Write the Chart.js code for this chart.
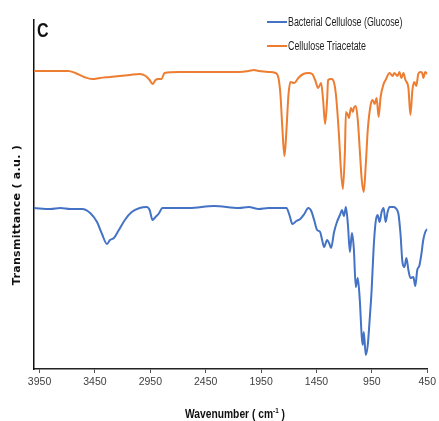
<!DOCTYPE html>
<html>
<head>
<meta charset="utf-8">
<script src="https://cdn.jsdelivr.net/npm/chart.js@4.4.1/dist/chart.umd.min.js"></script>
<style>
  html, body { margin:0; padding:0; background:#fff; }
  .wrap { position:relative; width:439px; height:421px; }
  .panel-tag { position:absolute; left:37px; top:19px; font:bold 20px 'Liberation Sans',Arial,sans-serif; color:#111;
               transform:scaleX(0.8); transform-origin:left top; }
  .legend { position:absolute; left:267px; top:14px; font:12px 'Liberation Sans',Arial,sans-serif; color:#222; }
  .legend-item { display:flex; align-items:center; height:16px; margin-bottom:8px; }
  .legend-line { width:20px; height:2px; margin-right:1px; flex:none; }
  .legend-item span { display:inline-block; transform:scaleX(0.74); transform-origin:left center; white-space:nowrap; }
  .x-title { position:absolute; left:135px; width:200px; top:406px; text-align:center; line-height:15px;
             font:bold 13px 'Liberation Sans',Arial,sans-serif; color:#111; transform:scaleX(0.79); }
  .x-title sup { font-size:8px; line-height:0; vertical-align:5px; }
  .y-title { position:absolute; left:-83px; top:208px; width:200px; height:14px; line-height:14px; text-align:center;
             font:bold 11px 'DejaVu Sans',sans-serif; letter-spacing:0.3px; color:#111; transform:rotate(-90deg); }
</style>
</head>
<body>
<div class="wrap">
  <canvas id="ftirChart" width="439" height="421"></canvas>
  <div class="panel-tag">C</div>
  <div class="legend" id="ftir-legend"></div>
  <div class="x-title">Wavenumber ( cm<sup>-1</sup> )</div>
  <div class="y-title">Transmittance ( a.u. )</div>
</div>
<script>
// ── FTIR spectra (arbitrary units) ──
const xTicks = [3950, 3450, 2950, 2450, 1950, 1450, 950, 450];

const bcWavenumber = [4000,3852,3762,3673,3565,3493,3431,3386,3341,3314,3279,3234,3180,3118,3046,2983,2956,2930,2903,2876,2840,
  2777,2598,2375,2151,2061,1972,1883,1793,1721,1694,1667,1632,1596,1560,1524,1497,1471,1444,1417,1399,1381,1354,1336,1318,1291,
  1265,1238,1220,1202,1184,1166,1148,1130,1113,1095,1077,1059,1041,1032,1023,1005,987,970,952,934,916,898,880,862,844,826,808,790,
  754,728,710,692,674,656,638,620,602,575,558,540,522,504,486,468,450];
const bcTransmittance = [161,160,161,160,160,156,147,135,125,129,131,139,149,157,161,162,159,149,152,155,161,
  161,161,163,161,162,160,161,161,161,154,145,148,150,155,161,158,149,139,137,129,122,129,126,121,137,
  147,154,159,153,162,144,117,136,121,82,91,69,32,24,37,14,24,49,79,121,147,154,147,157,161,147,157,162,
  162,160,155,136,107,102,111,99,91,92,83,99,103,114,129,137,140];

const ctaWavenumber = [4000,3852,3690,3628,3547,3476,3404,3314,3225,3135,3046,2992,2956,2930,2903,2876,2849,2822,2688,2509,2330,
  2151,2061,2017,1972,1883,1820,1793,1775,1757,1739,1721,1703,1685,1650,1614,1569,1524,1488,1462,1435,1408,1390,1372,1354,1345,
  1318,1300,1274,1247,1229,1211,1193,1184,1166,1157,1139,1121,1113,1095,1077,1059,1041,1023,1005,987,961,943,925,907,889,871,844,
  826,790,763,746,719,701,683,665,647,620,602,584,566,549,531,513,495,486,468,450];
const ctaTransmittance = [298,298,298,296,292,290,291,292,293,294,295,293,289,285,289,290,290,296,297,297,297,
  297,298,299,298,297,296,291,274,239,213,239,274,287,286,291,295,296,295,289,281,286,269,245,269,289,
  290,289,274,234,199,180,219,257,254,251,261,257,261,263,249,219,189,177,204,239,264,269,265,271,252,272,285,
  289,296,293,296,293,297,291,296,289,281,254,279,287,283,295,297,296,291,297,295];

const seriesNames  = ['Bacterial Cellulose (Glucose)', 'Cellulose Triacetate'];
const seriesColors = ['#4472C4', '#ED7D31'];

const toPoints = (xs, ys) => xs.map((x, i) => ({ x, y: ys[i] }));

new Chart(document.getElementById('ftirChart'), {
  type: 'line',
  data: {
    datasets: [
      { label: seriesNames[0], data: toPoints(bcWavenumber, bcTransmittance),
        borderColor: seriesColors[0], borderWidth: 2, pointRadius: 0, cubicInterpolationMode: 'monotone' },
      { label: seriesNames[1], data: toPoints(ctaWavenumber, ctaTransmittance),
        borderColor: seriesColors[1], borderWidth: 2, pointRadius: 0, cubicInterpolationMode: 'monotone' }
    ]
  },
  options: {
    responsive: false, animation: false,
    layout: { padding: { top: 20, right: 9, left: 0, bottom: 0 } },
    plugins: { legend: { display: false }, tooltip: { enabled: false } },
    scales: {
      x: {
        type: 'linear', reverse: true, min: 450, max: 4000,
        afterBuildTicks: s => { s.ticks = xTicks.map(v => ({ value: v })); },
        afterFit: s => { s.height = 52; },
        grid: { display: true, drawOnChartArea: false, drawTicks: true, tickLength: 4, color: '#555' },
        border: { display: true, color: '#222', width: 1.5 },
        ticks: { color: '#404040', font: { family: "'Liberation Sans',Arial,sans-serif", size: 10.5 }, padding: 3,
                 maxRotation: 0, autoSkip: false, callback: v => String(v) }
      },
      y: {
        min: 0, max: 349,
        afterFit: s => { s.width = 34; },
        grid: { display: false },
        border: { display: true, color: '#111', width: 1.5 },
        ticks: { display: false }
      }
    }
  }
});

// ── HTML legend ──
document.getElementById('ftir-legend').innerHTML = seriesNames.map((n, i) =>
  `<div class="legend-item"><div class="legend-line" style="background:${seriesColors[i]};"></div><span>${n}</span></div>`
).join('');
</script>
</body>
</html>
